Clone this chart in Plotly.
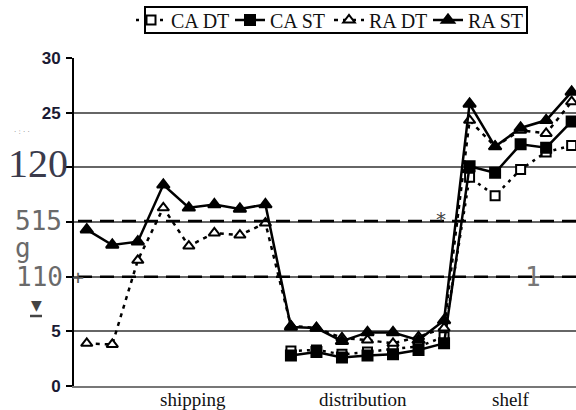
import plotly.graph_objects as go

# ---- data ----
stages = ["shipping", "distribution", "shelf"]
stage_counts = [8, 7, 5]
series_names = ["CA DT", "CA ST", "RA DT", "RA ST"]
ca_dt = [None] * 8 + [3.2, 3.3, 2.9, 3.1, 3.4, 3.6, 4.5] + [19.1, 17.4, 19.8, 21.4, 22.0]
ca_st = [None] * 8 + [2.8, 3.1, 2.6, 2.8, 2.9, 3.3, 3.9] + [20.1, 19.5, 22.1, 21.8, 24.2]
ra_dt = [3.9, 3.8, 11.5, 16.3, 12.8, 14.0, 13.8, 14.9] + [5.5, 5.3, 4.4, 4.2, 3.9, 4.5, 5.3] + [24.3, 21.9, 23.4, 23.1, 26.0]
ra_st = [14.3, 12.9, 13.2, 18.4, 16.3, 16.6, 16.2, 16.6] + [5.4, 5.3, 4.1, 4.9, 4.9, 4.2, 6.0] + [25.8, 21.9, 23.6, 24.3, 26.9]
ytick_vals = [0, 5, 10, 15, 20, 25, 30]
ytick_text = ["0", "5", "", "", "", "25", "30"]
ref_levels = [15.1, 10.0]

n = sum(stage_counts)
xs = list(range(n))

W, H = 576, 410
L, R, T, B = 74, 0, 58, 24
PW, PH = W - L - R, H - T - B


def px(x):
    return (x - L) / PW


def py(y):
    return (H - B - y) / PH


fig = go.Figure()
styles = [
    dict(dash="3px,5px", symbol="square", mcolor="white", size=9),
    dict(dash="solid", symbol="square", mcolor="black", size=10),
    dict(dash="4px,5px", symbol="triangle-up", mcolor="white", size=10),
    dict(dash="solid", symbol="triangle-up", mcolor="black", size=11),
]
for name, vals, st in zip(series_names, [ca_dt, ca_st, ra_dt, ra_st], styles):
    fig.add_trace(go.Scatter(
        x=xs, y=vals, name=name, mode="lines+markers",
        line=dict(color="black", width=2.5, dash=st["dash"]),
        marker=dict(symbol=st["symbol"], size=st["size"], color=st["mcolor"],
                    line=dict(color="black", width=2)),
        connectgaps=False,
    ))

# stage labels centred on their groups
annots = []
centers = [4.18, 10.82, 16.62]
for s, c in zip(stages, centers):
    annots.append(dict(x=c, y=0, xref="x", yref="y", text=s, showarrow=False,
                       xanchor="center", yanchor="top", yshift=-1,
                       font=dict(family="Liberation Serif", size=19, color="#111")))

gray_mono = dict(family="DejaVu Sans Mono", size=26, color="#6a6a6a")
extra = [
    ("120", 38, 163, dict(family="Liberation Serif", size=40, color="#3b3b4c")),
    ("515", 38, 221, gray_mono),
    ("g", 23, 248, gray_mono),
    ("110", 39, 277, gray_mono),
    ("+", 78, 277, dict(family="DejaVu Sans Mono", size=20, color="#555")),
    ("▼", 36, 305, dict(family="DejaVu Sans", size=14, color="#444")),
    ("*", 441, 219, dict(family="DejaVu Sans Mono", size=20, color="#444")),
    ("1", 533, 277, dict(family="DejaVu Sans Mono", size=26, color="#777")),
    ("· : · ·", 22, 132, dict(family="DejaVu Sans", size=7, color="#888")),
]
for txt, x, y, f in extra:
    annots.append(dict(x=px(x), y=py(y), xref="paper", yref="paper", text=txt,
                       showarrow=False, xanchor="center", yanchor="middle", font=f))

shapes = []
for lv in ref_levels:
    shapes.append(dict(type="line", xref="paper", yref="y", x0=px(78), x1=1, y0=lv, y1=lv,
                       line=dict(color="black", width=2.5, dash="14px,8px")))
shapes.append(dict(type="line", xref="paper", yref="paper", x0=px(30), x1=px(42),
                   y0=py(316), y1=py(316), line=dict(color="#444", width=2.5)))
# legend frame
shapes.append(dict(type="rect", xref="paper", yref="paper", x0=px(145), x1=px(527),
                   y0=py(33), y1=py(7), line=dict(color="black", width=2),
                   fillcolor="white", layer="below"))

fig.update_layout(
    width=W, height=H,
    margin=dict(l=L, r=R, t=T, b=B, pad=0),
    paper_bgcolor="white", plot_bgcolor="white",
    showlegend=True,
    legend=dict(orientation="h", x=px(131), xanchor="left", y=py(20), yanchor="middle",
                font=dict(family="Liberation Serif", size=20, color="#111"),
                borderwidth=0, bgcolor="rgba(0,0,0,0)", itemwidth=30,
                entrywidth=54, entrywidthmode="pixels", tracegroupgap=0),
    annotations=annots,
    shapes=shapes,
    xaxis=dict(range=[-0.5, 19.17], showticklabels=False, showgrid=False, zeroline=False,
               showline=True, linecolor="#777", linewidth=2, ticks=""),
    yaxis=dict(range=[0, 30], tickvals=ytick_vals, ticktext=ytick_text,
               showgrid=True, gridcolor="#666", gridwidth=1.5, zeroline=False,
               showline=True, linecolor="black", linewidth=2,
               ticks="outside", ticklen=6, tickcolor="black", tickwidth=1.5,
               ticklabelstandoff=2,
               tickfont=dict(family="Liberation Sans", size=17, color="#1a1a33", weight="bold")),
)

fig.write_html("out.html", config={"displayModeBar": False}, post_script=(
    "document.body.style.margin='0';"
    "document.body.style.overflow='hidden';"
    "document.documentElement.style.overflow='hidden';"
))
